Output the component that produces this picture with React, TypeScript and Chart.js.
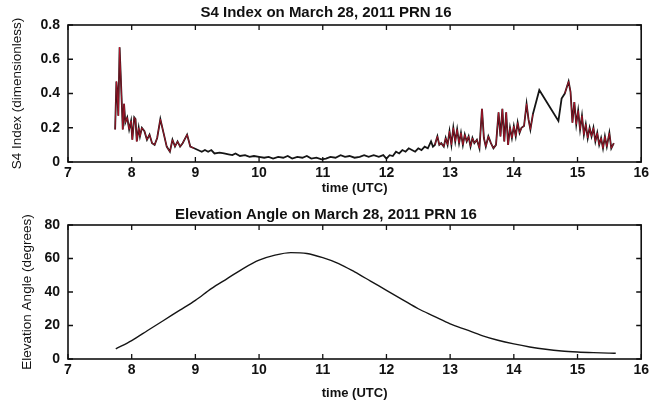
import React, { useEffect, useRef } from "react";
import { Chart, registerables } from "chart.js";

Chart.register(...registerables);

// ---------- data ----------
const s4Title = "S4 Index on March 28, 2011 PRN 16";
const elevTitle = "Elevation Angle on March 28, 2011 PRN 16";
const xAxisTitle = "time (UTC)";
const s4AxisTitle = "S4 Index (dimensionless)";
const elevAxisTitle = "Elevation Angle (degrees)";

const s4Times = [
  7.74, 7.76, 7.77, 7.79, 7.81, 7.82, 7.84, 7.86, 7.88, 7.9, 7.93, 7.96, 7.99, 8.01, 8.04, 8.06, 8.08, 8.11,
  8.13, 8.16, 8.2, 8.24, 8.28, 8.32, 8.36, 8.4, 8.45, 8.5, 8.55, 8.6, 8.64, 8.68, 8.72, 8.76, 8.8, 8.87,
  8.92, 8.98, 9.04, 9.1, 9.15, 9.2, 9.25, 9.3, 9.38, 9.45, 9.52, 9.58, 9.63, 9.7, 9.78, 9.85, 9.92, 10.0,
  10.08, 10.15, 10.22, 10.3, 10.38, 10.45, 10.52, 10.6, 10.68, 10.75, 10.82, 10.9, 10.98, 11.05, 11.12, 11.2,
  11.28, 11.35, 11.42, 11.5, 11.58, 11.65, 11.72, 11.8, 11.88, 11.95, 12.0, 12.05, 12.1, 12.15, 12.2, 12.25,
  12.3, 12.35, 12.4, 12.45, 12.5, 12.55, 12.6, 12.65, 12.7, 12.73, 12.76, 12.8, 12.83, 12.86, 12.9, 12.93,
  12.96, 12.99, 13.02, 13.05, 13.08, 13.11, 13.14, 13.17, 13.2, 13.23, 13.26, 13.29, 13.32, 13.35, 13.38, 13.42,
  13.46, 13.5, 13.53, 13.56, 13.6, 13.64, 13.68, 13.72, 13.76, 13.79, 13.82, 13.85, 13.88, 13.91, 13.94, 13.97,
  14.0, 14.03, 14.06, 14.09, 14.12, 14.16, 14.2, 14.23, 14.26, 14.3, 14.4, 14.55, 14.7, 14.75, 14.8, 14.86,
  14.89, 14.92, 14.95, 14.98, 15.01, 15.04, 15.07, 15.1, 15.13, 15.16, 15.19, 15.22, 15.25, 15.28, 15.31, 15.34,
  15.37, 15.4, 15.43, 15.46, 15.5, 15.53, 15.57,
];
const s4Values = [
  0.19, 0.47, 0.43, 0.27, 0.67, 0.58, 0.39, 0.19, 0.34, 0.23, 0.26, 0.19, 0.24, 0.13, 0.26, 0.25, 0.12, 0.2,
  0.15, 0.2, 0.18, 0.13, 0.16, 0.11, 0.1, 0.14, 0.25, 0.17, 0.09, 0.06, 0.13, 0.09, 0.12, 0.09, 0.11, 0.16,
  0.09, 0.08, 0.07, 0.06, 0.07, 0.06, 0.07, 0.05, 0.055, 0.05, 0.045, 0.04, 0.05, 0.035, 0.04, 0.03, 0.035, 0.03,
  0.025, 0.03, 0.02, 0.03, 0.025, 0.035, 0.02, 0.03, 0.025, 0.035, 0.02, 0.025, 0.015, 0.02, 0.03, 0.025,
  0.04, 0.03, 0.035, 0.025, 0.03, 0.04, 0.03, 0.04, 0.03, 0.04, 0.02, 0.04, 0.035, 0.06, 0.05, 0.07,
  0.06, 0.08, 0.07, 0.06, 0.08, 0.07, 0.09, 0.08, 0.12, 0.09, 0.1, 0.15, 0.1, 0.11, 0.09, 0.14,
  0.1, 0.18, 0.1, 0.2, 0.12, 0.19, 0.11, 0.17, 0.1, 0.16, 0.12, 0.15, 0.09, 0.14, 0.11, 0.13,
  0.08, 0.31, 0.14, 0.09, 0.15, 0.11, 0.08, 0.1, 0.29, 0.15, 0.31, 0.12, 0.29, 0.1, 0.2, 0.14,
  0.21, 0.15, 0.23, 0.17, 0.2, 0.21, 0.34, 0.25, 0.19, 0.28, 0.42, 0.33, 0.24, 0.37, 0.4, 0.47,
  0.41, 0.23, 0.35, 0.22, 0.3, 0.19, 0.27, 0.16, 0.22, 0.14, 0.2, 0.15, 0.2, 0.12, 0.17, 0.1,
  0.14, 0.08, 0.15, 0.09, 0.17, 0.08, 0.11,
];
// time ranges where the red trace is visible over the black one
const redRanges = [
  [7.74, 9.0],
  [12.75, 14.3],
  [14.8, 15.6],
];

const elevTimes = [
  7.75, 8.0, 8.25, 8.5, 8.75, 9.0, 9.25, 9.5, 9.75, 10.0, 10.25, 10.5, 10.75, 11.0, 11.25, 11.5, 11.75,
  12.0, 12.25, 12.5, 12.75, 13.0, 13.25, 13.5, 13.75, 14.0, 14.25, 14.5, 14.75, 15.0, 15.25, 15.5, 15.6,
];
const elevValues = [
  6, 11, 17, 23, 29, 35, 42, 48, 54, 59, 62, 63.5, 63, 60.5, 57, 52, 46.5,
  41, 35.5, 30, 25.5, 21, 17.5, 14, 11.2, 9, 7.2, 5.8, 4.8, 4.2, 3.8, 3.5, 3.4,
];

const xTicksMin = 7;
const xTicksMax = 16;
const s4Max = 0.8;
const s4Step = 0.2;
const elevMax = 80;
const elevStep = 20;

// ---------- helpers ----------
const FONT = "'Liberation Sans', Arial, sans-serif";

const boxPlugin = {
  id: "matlabBox",
  afterDraw(chart: any) {
    const { ctx, chartArea } = chart;
    const { left, right, top, bottom } = chartArea;
    ctx.save();
    ctx.strokeStyle = "#111";
    ctx.lineWidth = 1.6;
    ctx.strokeRect(left, top, right - left, bottom - top);
    ctx.lineWidth = 1.3;
    const xs = chart.scales.x;
    const ys = chart.scales.y;
    const tl = 5;
    ctx.beginPath();
    xs.ticks.forEach((t: any) => {
      const px = xs.getPixelForValue(t.value);
      ctx.moveTo(px, bottom);
      ctx.lineTo(px, bottom - tl);
      ctx.moveTo(px, top);
      ctx.lineTo(px, top + tl);
    });
    ys.ticks.forEach((t: any) => {
      const py = ys.getPixelForValue(t.value);
      ctx.moveTo(left, py);
      ctx.lineTo(left + tl, py);
      ctx.moveTo(right, py);
      ctx.lineTo(right - tl, py);
    });
    ctx.stroke();
    ctx.restore();
  },
};

function makeOptions(
  title: string,
  yTitle: string,
  yMax: number,
  yStep: number,
  titlePad: any,
  yTitlePad: number,
  xHeight: number,
  xTitleBottom: number
) {
  return {
    responsive: false,
    animation: false as const,
    devicePixelRatio: 1,
    layout: { padding: { left: 0, right: 0, top: 0, bottom: 0 } },
    plugins: {
      legend: { display: false },
      tooltip: { enabled: false },
      title: {
        display: true,
        text: title,
        color: "#111",
        font: { family: FONT, size: 15, weight: "bold" as const },
        padding: titlePad,
      },
    },
    scales: {
      x: {
        type: "linear" as const,
        min: xTicksMin,
        max: xTicksMax,
        ticks: {
          stepSize: 1,
          color: "#111",
          padding: 3,
          font: { family: FONT, size: 14, weight: "bold" as const },
          maxRotation: 0,
        },
        grid: { display: false, drawTicks: false, tickLength: 0 },
        border: { display: false },
        title: {
          display: true,
          text: xAxisTitle,
          color: "#111",
          font: { family: FONT, size: 13, weight: "bold" as const },
          padding: { top: 0, bottom: xTitleBottom },
        },
        afterFit(scale: any) {
          scale.height = xHeight;
        },
      },
      y: {
        type: "linear" as const,
        min: 0,
        max: yMax,
        ticks: {
          stepSize: yStep,
          color: "#111",
          padding: 8,
          font: { family: FONT, size: 14, weight: "bold" as const },
        },
        grid: { display: false, drawTicks: false, tickLength: 0 },
        border: { display: false },
        title: {
          display: true,
          text: yTitle,
          color: "#111",
          font: { family: FONT, size: 13.5 },
          padding: { top: yTitlePad, bottom: 0 },
        },
        afterFit(scale: any) {
          scale.width = 68;
        },
      },
    },
  };
}

function S4Chart() {
  const ref = useRef<HTMLCanvasElement | null>(null);
  useEffect(() => {
    if (!ref.current) return;
    const pts = s4Times.map((t, i) => ({ x: t, y: s4Values[i] }));
    const red = s4Times.map((t, i) => ({
      x: t,
      y: redRanges.some(([a, b]) => t >= a && t <= b) ? s4Values[i] : null,
    }));
    const chart = new Chart(ref.current, {
      type: "line",
      data: {
        datasets: [
          {
            data: red as any,
            borderColor: "#c0142c",
            borderWidth: 0.8,
            pointRadius: 0,
            spanGaps: false,
            tension: 0,
            order: 0,
          },
          {
            data: pts,
            borderColor: "#151515",
            borderWidth: 1.8,
            pointRadius: 0,
            tension: 0,
            order: 1,
          },
        ],
      },
      options: makeOptions(s4Title, s4AxisTitle, s4Max, s4Step, { top: 4, bottom: 3 }, 9, 41, 7) as any,
      plugins: [boxPlugin],
    });
    return () => chart.destroy();
  }, []);
  return <canvas ref={ref} width={652} height={203} style={{ display: "block" }} />;
}

function ElevChart() {
  const ref = useRef<HTMLCanvasElement | null>(null);
  useEffect(() => {
    if (!ref.current) return;
    const pts = elevTimes.map((t, i) => ({ x: t, y: elevValues[i] }));
    const chart = new Chart(ref.current, {
      type: "line",
      data: {
        datasets: [
          {
            data: pts,
            borderColor: "#151515",
            borderWidth: 1.4,
            pointRadius: 0,
            tension: 0.4,
            cubicInterpolationMode: "monotone",
          },
        ],
      },
      options: makeOptions(elevTitle, elevAxisTitle, elevMax, elevStep, { top: 3, bottom: 1 }, 19, 48, 6) as any,
      plugins: [boxPlugin],
    });
    return () => chart.destroy();
  }, []);
  return <canvas ref={ref} width={652} height={204} style={{ display: "block" }} />;
}

export default function App() {
  return (
    <div style={{ position: "fixed", left: 0, top: 0, width: 652, height: 407, background: "#fff" }}>
      <S4Chart />
      <ElevChart />
    </div>
  );
}
